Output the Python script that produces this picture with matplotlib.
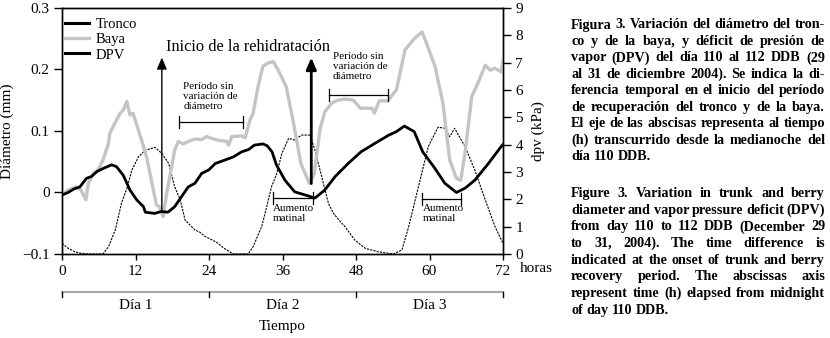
import matplotlib.pyplot as plt
from matplotlib.lines import Line2D

plt.rcParams['font.family'] = ['Liberation Serif', 'DejaVu Serif']

# tronco (trunk) diameter, mm
tronco_h = [0, 1.0, 2.0, 2.9, 4.0, 4.8, 5.7, 6.7, 8.1, 8.9, 10.0, 11.1, 12.2, 13.3, 13.6, 15.1, 16.2,
            17.3, 18.4, 19.5, 20.6, 21.7, 22.8, 24.0, 25.0, 27.2, 28.0, 29.3, 30.5, 31.4, 32.8, 33.5,
            34.3, 35.0, 36.4, 38.0, 39.7, 41.3, 42.9, 44.6, 46.7, 48.8, 51.1, 53.3, 54.6, 55.9, 57.5,
            58.9, 60.9, 62.5, 64.4, 65.8, 67.4, 69.6, 71.8, 72]
tronco_v = [-0.004, 0.000, 0.006, 0.009, 0.023, 0.026, 0.034, 0.039, 0.045, 0.042, 0.028, 0.004, -0.012,
            -0.023, -0.032, -0.034, -0.031, -0.032, -0.023, -0.007, 0.009, 0.015, 0.031, 0.037, 0.047,
            0.055, 0.058, 0.066, 0.070, 0.077, 0.079, 0.076, 0.066, 0.045, 0.020, 0.001, -0.004, -0.009,
            0.004, 0.026, 0.047, 0.066, 0.080, 0.093, 0.099, 0.108, 0.099, 0.066, 0.039, 0.015, 0.000,
            0.007, 0.020, 0.047, 0.076, 0.078]

# baya (berry) diameter, mm
baya_h = [0, 1.0, 2.3, 3.1, 3.9, 4.3, 5.1, 5.9, 6.7, 7.6, 7.8, 8.9, 9.5, 10.0, 10.6, 11.1, 11.6, 12.2,
          13.0, 13.8, 14.6, 15.4, 15.9, 16.5, 17.1, 17.9, 18.4, 19.0, 19.8, 20.6, 21.7, 22.8, 23.6, 24.4,
          25.5, 26.9, 27.2, 27.7, 29.3, 29.9, 30.7, 31.2, 32.0, 32.8, 33.5, 34.5, 35.3, 36.6, 37.7, 39.0,
          40.4, 41.2, 42.1, 42.9, 44.0, 45.0, 46.2, 47.6, 48.7, 49.7, 50.6, 51.0, 51.8, 53.2, 54.6, 56.0,
          57.6, 58.8, 59.5, 60.9, 62.2, 63.3, 64.4, 65.1, 65.8, 66.9, 68.0, 69.1, 69.9, 70.7, 71.7, 72]
baya_v = [-0.004, 0.004, 0.009, 0.004, -0.012, 0.015, 0.031, 0.037, 0.053, 0.080, 0.096, 0.118, 0.129,
          0.134, 0.148, 0.126, 0.129, 0.110, 0.085, 0.058, 0.020, -0.020, -0.023, -0.039, -0.001, 0.042,
          0.069, 0.083, 0.079, 0.083, 0.087, 0.086, 0.091, 0.088, 0.085, 0.083, 0.077, 0.091, 0.092,
          0.089, 0.118, 0.129, 0.172, 0.205, 0.210, 0.213, 0.199, 0.172, 0.118, 0.047, 0.015, 0.031,
          0.102, 0.131, 0.145, 0.150, 0.152, 0.150, 0.137, 0.137, 0.137, 0.129, 0.149, 0.149, 0.167,
          0.232, 0.251, 0.261, 0.243, 0.205, 0.145, 0.053, 0.023, 0.020, 0.064, 0.156, 0.180, 0.207,
          0.199, 0.202, 0.196, 0.215]

# DPV, kPa
dpv_h = [0, 1.0, 2.1, 3.0, 4.3, 6.7, 7.6, 8.7, 9.7, 10.6, 11.4, 12.5, 13.6, 15.2, 16.3, 17.4, 18.4, 19.3,
         20.1, 21.7, 22.5, 23.3, 25.3, 26.5, 28.0, 30.4, 31.2, 32.6, 33.5, 34.2, 35.0, 35.9, 37.0, 38.0,
         39.1, 40.5, 41.3, 42.4, 43.5, 44.3, 45.7, 46.2, 47.8, 49.5, 51.6, 54.1, 55.5, 56.6, 58.2, 59.8,
         61.4, 62.5, 63.3, 64.1, 65.8, 67.4, 69.1, 70.7, 72]
dpv_v = [0.39, 0.21, 0.08, 0.03, 0.0, 0.0, 0.27, 0.88, 1.85, 2.40, 3.07, 3.56, 3.80, 3.90, 3.68, 3.32,
         2.46, 1.98, 1.24, 0.88, 0.80, 0.65, 0.42, 0.20, 0.0, 0.0, 0.27, 1.0, 1.8, 2.46, 2.9, 3.68, 4.23,
         4.17, 4.35, 4.35, 3.8, 2.83, 1.85, 1.49, 1.12, 1.0, 0.51, 0.21, 0.08, 0.0, 0.15, 1.0, 2.46,
         3.93, 4.64, 4.6, 4.29, 4.6, 3.93, 3.07, 1.98, 1.0, 0.39]

x_ticks = [0, 12, 24, 36, 48, 60, 72]
dias = ['Día 1', 'Día 2', 'Día 3']

caption_es = ["Figura 3. Variación del diámetro del tron-",
              "co y de la baya, y déficit de presión de",
              "vapor (DPV) del día 110 al 112 DDB (29",
              "al 31 de diciembre 2004). Se indica la di-",
              "ferencia temporal en el inicio del período",
              "de recuperación del tronco y de la baya.",
              "El eje de las abscisas representa al tiempo",
              "(h) transcurrido desde la medianoche del",
              "día 110 DDB."]
caption_en = ["Figure 3. Variation in trunk and berry",
              "diameter and vapor pressure deficit (DPV)",
              "from day 110 to 112 DDB (December 29",
              "to 31, 2004). The time difference is",
              "indicated at the onset of trunk and berry",
              "recovery period. The abscissas axis",
              "represent time (h) elapsed from midnight",
              "of day 110 DDB."]

W, H = 830, 338
fig = plt.figure(figsize=(W / 100, H / 100), dpi=100)
ax = fig.add_axes([62 / W, 1 - 254 / H, (503 - 62) / W, 246 / H])
ax2 = ax.twinx()

ax2.plot(dpv_h, dpv_v, color='black', lw=0.8, ls=(0, (2, 1)))
ax.plot(baya_h, baya_v, color='#c4c4c4', lw=2.4)
ax.plot(tronco_h, tronco_v, color='black', lw=2.0)
ax.set_zorder(ax2.get_zorder() + 1)
ax.patch.set_visible(False)

ax.set_xlim(0, 72)
ax.set_ylim(-0.1, 0.3)
ax2.set_ylim(0, 9)
ax.set_xticks(x_ticks)
ax.set_yticks([-0.1, 0, 0.1, 0.2, 0.3])
ax.set_yticklabels(['\u22120.1', '0', '0.1', '0.2', '0.3'])
ax2.set_yticks(range(10))
for a in (ax, ax2):
    a.tick_params(axis='y', labelsize=11, length=6, width=1, pad=3)
    for s in a.spines.values():
        s.set_linewidth(1)
ax.tick_params(axis='x', labelsize=11, length=4, width=1, pad=4)
ax.set_ylabel('Diámetro (mm)', fontsize=11, labelpad=6)
ax2.set_ylabel('dpv (kPa)', fontsize=11, labelpad=6)
ax.text(77.5, -0.06, 'horas', transform=ax.get_xaxis_transform(), fontsize=11,
        ha='center', va='center')

# day axis below
xt = ax.get_xaxis_transform()
ax.plot([0, 72], [-0.154, -0.154], transform=xt, color='#a8a8a8', lw=1.5, clip_on=False)
for d in (0, 24, 48, 72):
    ax.plot([d, d], [-0.154, -0.176], transform=xt, color='black', lw=1, clip_on=False)
for i, d in enumerate(dias):
    ax.text(12 + 24 * i, -0.21, d, transform=xt, fontsize=11, ha='center', va='center')
ax.text(36, -0.295, 'Tiempo', transform=xt, fontsize=11, ha='center', va='center')

# legend
handles = [Line2D([], [], color='black', lw=2.2), Line2D([], [], color='#c4c4c4', lw=2.4),
           Line2D([], [], color='black', lw=2.2)]
ax.legend(handles, ['Tronco', 'Baya', 'DPV'], loc='upper left', frameon=False, fontsize=10.5,
          handlelength=1.6, handletextpad=0.5, labelspacing=0.15, borderaxespad=0,
          borderpad=0.4, bbox_to_anchor=(-0.006, 0.985))

# arrows
ax.annotate('', xy=(16.3, 0.224), xytext=(16.3, -0.036),
            arrowprops=dict(arrowstyle='-|>,head_width=0.3,head_length=0.7', color='black', lw=1))
ax.annotate('', xy=(40.7, 0.224), xytext=(40.7, 0.010),
            arrowprops=dict(arrowstyle='-|>,head_width=0.3,head_length=0.7', color='black', lw=2))
ax.text(16.9, 0.237, 'Inicio de la rehidratación', fontsize=11.8, ha='left', va='center')


def bracket(x0, x1, y, dy=0.01):
    ax.plot([x0, x1], [y, y], color='black', lw=0.9)
    for xx in (x0, x1):
        ax.plot([xx, xx], [y - dy, y + dy], color='black', lw=0.9)


bracket(19.1, 29.6, 0.115)
ax.text(19.8, 0.180, 'Período sin\nvariación de\ndiámetro', fontsize=8, va='top', linespacing=1.15)
bracket(43.6, 53.2, 0.159)
ax.text(44.2, 0.228, 'Período sin\nvariación de\ndiámetro', fontsize=8, va='top', linespacing=1.15)
bracket(34.4, 40.9, -0.009)
ax.text(34.4, -0.018, 'Aumento\nmatinal', fontsize=8, va='top', linespacing=1.15)
bracket(58.8, 65.2, -0.011)
ax.text(58.9, -0.018, 'Aumento\nmatinal', fontsize=8, va='top', linespacing=1.15)

# justified caption on the right
renderer = fig.canvas.get_renderer()


def caption(lines, x0, x1, y0, dy, size=10.2):
    for i, line in enumerate(lines):
        words = line.split()
        y = 1 - (y0 + i * dy) / H
        objs = [fig.text(0, y, w, fontsize=size, fontweight='bold', va='center') for w in words]
        widths = [o.get_window_extent(renderer).width for o in objs]
        if i < len(lines) - 1 and len(words) > 1:
            gap = (x1 - x0 - sum(widths)) / (len(words) - 1)
        else:
            gap = size * 100 / 72 * 0.25
        x = x0
        for o, w in zip(objs, widths):
            o.set_x(x / W)
            x += w + gap


caption(caption_es, 571, 825, 25, 16.45)
caption(caption_en, 571, 825, 193.5, 16.65)

fig.savefig('out.png', dpi=100)
